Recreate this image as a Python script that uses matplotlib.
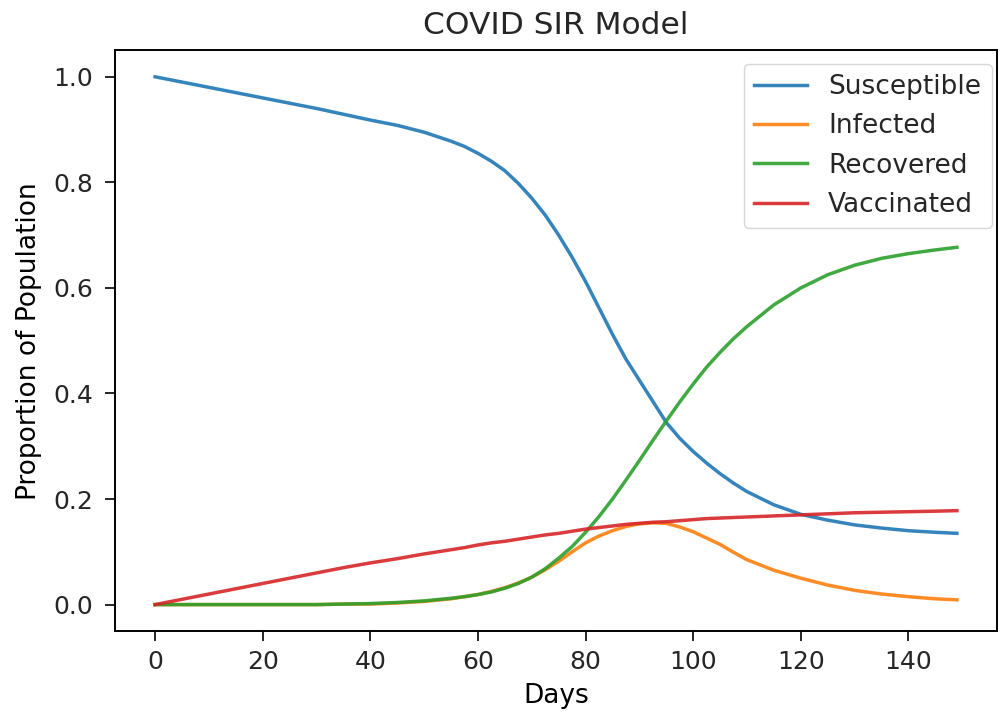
import numpy as np
import matplotlib.pyplot as plt

# values (finer steps where the curves bend)
days = [0, 5, 10, 15, 20, 25, 30, 35, 40, 45, 50,
        55, 57.5, 60, 62.5, 65, 67.5, 70, 72.5, 75, 77.5, 80, 82.5, 85, 87.5,
        90, 92.5, 95, 97.5, 100, 102.5, 105, 107.5, 110,
        115, 120, 125, 130, 135, 140, 145, 149]
susceptible = [1.000, 0.990, 0.980, 0.970, 0.960, 0.950, 0.940, 0.929, 0.918, 0.908, 0.895,
               0.878, 0.868, 0.855, 0.840, 0.822, 0.798, 0.770, 0.738, 0.700, 0.658, 0.612,
               0.562, 0.512, 0.465, 0.425, 0.385, 0.345, 0.315, 0.290, 0.268, 0.248, 0.230,
               0.214, 0.189, 0.171, 0.160, 0.151, 0.145, 0.140, 0.137, 0.135]
infected = [0.000, 0.000, 0.000, 0.000, 0.000, 0.000, 0.000, 0.001, 0.001, 0.003, 0.006,
            0.011, 0.015, 0.019, 0.025, 0.032, 0.041, 0.052, 0.066, 0.082, 0.100, 0.117,
            0.130, 0.140, 0.148, 0.153, 0.155, 0.154, 0.147, 0.138, 0.126, 0.114, 0.099,
            0.085, 0.065, 0.050, 0.037, 0.027, 0.020, 0.015, 0.011, 0.009]
recovered = [0.000, 0.000, 0.000, 0.000, 0.000, 0.000, 0.000, 0.001, 0.002, 0.004, 0.007,
             0.012, 0.015, 0.019, 0.024, 0.031, 0.040, 0.052, 0.068, 0.088, 0.110, 0.137,
             0.167, 0.200, 0.236, 0.273, 0.311, 0.348, 0.384, 0.418, 0.450, 0.478, 0.504,
             0.527, 0.568, 0.600, 0.625, 0.643, 0.656, 0.665, 0.672, 0.677]
vaccinated = [0.000, 0.010, 0.020, 0.030, 0.040, 0.050, 0.060, 0.070, 0.079, 0.087, 0.096,
              0.104, 0.108, 0.113, 0.117, 0.120, 0.124, 0.128, 0.132, 0.135, 0.139, 0.143,
              0.146, 0.149, 0.152, 0.154, 0.156, 0.157, 0.159, 0.161, 0.163, 0.164, 0.165,
              0.166, 0.168, 0.170, 0.172, 0.174, 0.175, 0.176, 0.177, 0.178]
labels = ['Susceptible', 'Infected', 'Recovered', 'Vaccinated']

plt.rcParams['font.size'] = 19
plt.rcParams['axes.linewidth'] = 1.4
plt.rcParams['xtick.labelsize'] = 18
plt.rcParams['ytick.labelsize'] = 18
plt.rcParams['xtick.major.size'] = 7
plt.rcParams['ytick.major.size'] = 7
plt.rcParams['xtick.major.width'] = 1.4
plt.rcParams['ytick.major.width'] = 1.4
plt.rcParams['xtick.major.pad'] = 7
plt.rcParams['ytick.major.pad'] = 8.5
plt.rcParams['text.color'] = '#262626'
plt.rcParams['xtick.color'] = '#262626'
plt.rcParams['ytick.color'] = '#262626'

fig = plt.figure(figsize=(10, 7.15), dpi=100)
ax = fig.add_axes([0.115, 0.1175, 0.882, 0.812])

for series, name in zip([susceptible, infected, recovered, vaccinated], labels):
    ax.plot(days, series, linewidth=2.5, label=name, alpha=0.9)

ax.set_title('COVID SIR Model', fontsize=22.5, pad=12)
ax.set_xlabel('Days', labelpad=6)
ax.set_ylabel('Proportion of Population', labelpad=8)
ax.legend(loc='upper right', bbox_to_anchor=(1.009, 1.0), fontsize=19)

fig.savefig('out.png', dpi=100)
